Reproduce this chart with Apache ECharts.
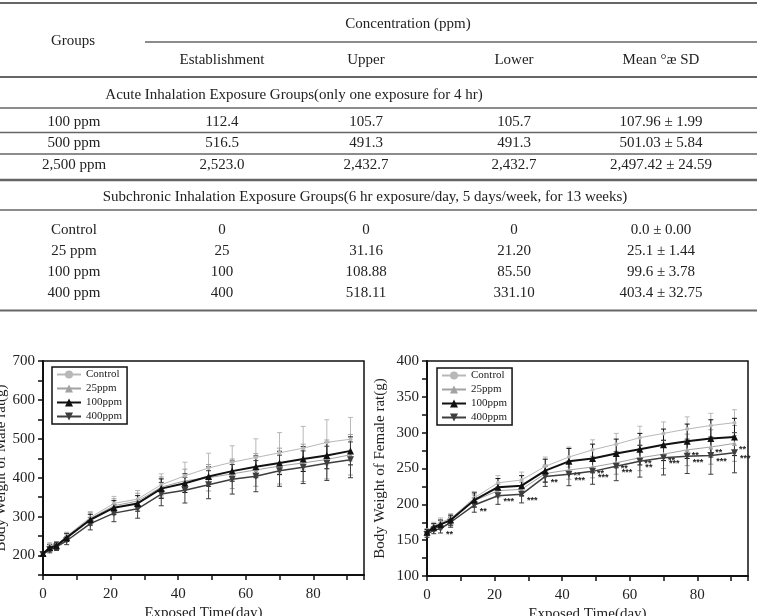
<!DOCTYPE html>
<html lang="en">
<head>
<meta charset="UTF-8">
<title>Exposure concentration and body weight</title>
</head>
<body style="margin:0;background:#fff;">
<div id="main" style="width:757px; height:616px;"></div>
<script src="https://fastly.jsdelivr.net/npm/echarts@6/dist/echarts.min.js"></script>
<script>
// ---- table text ----
var groupsLabel = 'Groups';
var headerTitle = 'Concentration (ppm)';
var headerCols = ['Establishment', 'Upper', 'Lower', 'Mean °æ SD'];
var acuteTitle = 'Acute Inhalation Exposure Groups(only one exposure for 4 hr)';
var acuteRows = [
  ['100 ppm', '112.4', '105.7', '105.7', '107.96 ± 1.99'],
  ['500 ppm', '516.5', '491.3', '491.3', '501.03 ± 5.84'],
  ['2,500 ppm', '2,523.0', '2,432.7', '2,432.7', '2,497.42 ± 24.59']
];
var subTitle = 'Subchronic Inhalation Exposure Groups(6 hr exposure/day, 5 days/week, for 13 weeks)';
var subRows = [
  ['Control', '0', '0', '0', '0.0 ± 0.00'],
  ['25 ppm', '25', '31.16', '21.20', '25.1 ± 1.44'],
  ['100 ppm', '100', '108.88', '85.50', '99.6 ± 3.78'],
  ['400 ppm', '400', '518.11', '331.10', '403.4 ± 32.75']
];

// ---- body weight (g) ----
var days = [0, 2, 4, 7, 14, 21, 28, 35, 42, 49, 56, 63, 70, 77, 84, 91];
var groupNames = ['Control', '25ppm', '100ppm', '400ppm'];

var maleControl = [205, 225, 228, 250, 298, 334, 345, 382, 405, 425, 440, 452, 464, 476, 491, 499];
var male25 = [204, 222, 227, 248, 295, 328, 340, 376, 392, 400, 410, 420, 430, 438, 447, 459];
var male100 = [205, 220, 225, 246, 292, 323, 334, 372, 386, 403, 417, 428, 438, 448, 457, 469];
var male400 = [203, 215, 222, 238, 282, 309, 320, 358, 368, 382, 396, 404, 418, 427, 437, 446];
var maleControlSD = [5, 8, 8, 10, 15, 18, 22, 28, 35, 38, 42, 48, 52, 56, 58, 56];
var male25SD = [5, 8, 9, 10, 15, 18, 20, 26, 30, 34, 38, 42, 46, 48, 50, 52];
var male100SD = [5, 8, 9, 10, 14, 18, 20, 25, 24, 25, 26, 28, 30, 32, 34, 36];
var male400SD = [5, 8, 9, 10, 16, 22, 24, 30, 33, 36, 38, 40, 40, 42, 44, 46];

var femaleControl = [162, 170, 175, 180, 209, 230, 234, 253, 266, 276, 284, 293, 299, 305, 310, 314];
var female25 = [160, 168, 172, 177, 205, 219, 221, 243, 248, 252, 258, 265, 270, 276, 280, 285];
var female100 = [161, 168, 172, 178, 206, 224, 226, 247, 260, 264, 271, 277, 283, 288, 292, 294];
var female400 = [158, 164, 166, 175, 199, 212, 214, 239, 242, 246, 253, 260, 265, 267, 268, 272];
var femaleControlSD = [4, 5, 6, 7, 9, 10, 11, 13, 14, 14, 15, 16, 16, 17, 17, 18];
var female25SD = [4, 5, 6, 7, 8, 9, 10, 12, 13, 15, 16, 18, 20, 22, 24, 25];
var female100SD = [4, 5, 6, 7, 10, 12, 14, 16, 18, 20, 20, 22, 22, 24, 26, 26];
var female400SD = [4, 5, 6, 7, 10, 12, 12, 14, 16, 18, 20, 22, 24, 24, 26, 28];
// significance marks beside the female points
var female25Sig = ['', '', '', '', '', '', '', '', '**', '**', '**', '**', '**', '**', '**', '**'];
var female400Sig = ['', '', '**', '', '**', '***', '***', '**', '***', '***', '***', '**', '***', '***', '***', '***'];

var serif = 'Liberation Serif, Times New Roman, serif';

// ---- table drawn with graphic elements ----
var colX = [74, 222, 366, 514, 661];
var graphics = [];
function txt(s, x, y) {
  graphics.push({
    type: 'text', x: x, y: y, silent: true,
    style: { text: s, fill: '#222', font: '15px ' + serif, align: 'center', verticalAlign: 'middle' }
  });
}
function hline(y, x1, x2, w) {
  graphics.push({
    type: 'line', silent: true,
    shape: { x1: x1, y1: y, x2: x2, y2: y },
    style: { stroke: '#666', lineWidth: w }
  });
}
hline(3, 0, 757, 2);
txt(headerTitle, 408, 24);
txt(groupsLabel, 73, 41);
hline(42, 145, 757, 1.3);
headerCols.forEach(function (h, i) { txt(h, colX[i + 1], 60); });
hline(77, 0, 757, 2);
txt(acuteTitle, 294, 95);
hline(108, 0, 757, 1.5);
var acuteY = [122, 143, 165];
acuteRows.forEach(function (row, r) {
  row.forEach(function (c, i) { txt(c, colX[i], acuteY[r]); });
});
hline(132.5, 0, 757, 1.5);
hline(154, 0, 757, 1.5);
hline(180, 0, 757, 2.5);
txt(subTitle, 365, 197);
hline(210, 0, 757, 1.5);
var subY = [230, 251, 272, 293];
subRows.forEach(function (row, r) {
  row.forEach(function (c, i) { txt(c, colX[i], subY[r]); });
});
hline(310.5, 0, 757, 2);

// ---- charts ----
var styles = [
  { color: '#b8b8b8', width: 1, symbol: 'circle', size: 4, rotate: 0, z: 3 },
  { color: '#a2a2a2', width: 1, symbol: 'triangle', size: 5, rotate: 0, z: 3 },
  { color: '#111111', width: 2, symbol: 'triangle', size: 7, rotate: 0, z: 5 },
  { color: '#3e3e3e', width: 1.5, symbol: 'triangle', size: 7, rotate: 180, z: 4 }
];

function errorBar(color) {
  return function (params, api) {
    var x = api.value(0);
    var top = api.coord([x, api.value(2)]);
    var bot = api.coord([x, api.value(1)]);
    var cap = 2.5;
    var st = { stroke: color, lineWidth: 1 };
    return {
      type: 'group',
      children: [
        { type: 'line', shape: { x1: top[0], y1: top[1], x2: bot[0], y2: bot[1] }, style: st },
        { type: 'line', shape: { x1: top[0] - cap, y1: top[1], x2: top[0] + cap, y2: top[1] }, style: st },
        { type: 'line', shape: { x1: bot[0] - cap, y1: bot[1], x2: bot[0] + cap, y2: bot[1] }, style: st }
      ]
    };
  };
}

function groupSeries(gi, k, means, sds, sig) {
  var s = styles[k];
  var out = [];
  out.push({
    name: groupNames[k] + ' SD', type: 'custom',
    xAxisIndex: gi, yAxisIndex: gi, z: 1,
    renderItem: errorBar(s.color),
    encode: { x: 0, y: [1, 2] },
    data: days.map(function (d, i) { return [d, means[i] - sds[i], means[i] + sds[i]]; })
  });
  var line = {
    name: groupNames[k], type: 'line',
    xAxisIndex: gi, yAxisIndex: gi, z: s.z,
    symbol: s.symbol, symbolSize: s.size, symbolRotate: s.rotate,
    showAllSymbol: true,
    itemStyle: { color: s.color },
    lineStyle: { color: s.color, width: s.width },
    data: days.map(function (d, i) { return [d, means[i]]; })
  };
  if (sig) {
    line.label = {
      show: true, position: 'right', distance: 2, offset: [0, 6],
      formatter: function (p) { return sig[p.dataIndex]; },
      fontSize: 9, fontWeight: 'bold', color: '#222'
    };
  }
  out.push(line);
  return out;
}

var series = [];
[maleControl, male25, male100, male400].forEach(function (m, k) {
  series = series.concat(groupSeries(0, k, m, [maleControlSD, male25SD, male100SD, male400SD][k], null));
});
[femaleControl, female25, female100, female400].forEach(function (m, k) {
  var sig = k === 1 ? female25Sig : (k === 3 ? female400Sig : null);
  series = series.concat(groupSeries(1, k, m, [femaleControlSD, female25SD, female100SD, female400SD][k], sig));
});

function xAxis(gi) {
  return {
    gridIndex: gi, type: 'value', min: 0, max: 95, interval: 10,
    axisLine: { show: true, lineStyle: { color: '#111', width: 2 } },
    axisTick: { show: true, length: 5, lineStyle: { color: '#111', width: 1.5 } },
    splitLine: { show: false },
    axisLabel: {
      margin: 12, fontSize: 15, fontFamily: serif, color: '#222',
      formatter: function (v) { return (v % 20 === 0 && v <= 80) ? String(v) : ''; }
    },
    name: 'Exposed Time(day)', nameLocation: 'middle', nameGap: 31,
    nameTextStyle: { fontSize: 15, fontFamily: serif, color: '#222' }
  };
}
function yAxis(gi, min, max, step, labelStep, name, gap) {
  return {
    gridIndex: gi, type: 'value', min: min, max: max, interval: step,
    axisLine: { show: true, lineStyle: { color: '#111', width: 2 } },
    axisTick: { show: true, length: 5, lineStyle: { color: '#111', width: 1.5 } },
    splitLine: { show: false },
    axisLabel: {
      margin: 8, fontSize: 15, fontFamily: serif, color: '#222',
      formatter: function (v) { return v % labelStep === 0 ? String(v) : ''; }
    },
    name: name, nameLocation: 'middle', nameGap: gap,
    nameTextStyle: { fontSize: 15, fontFamily: serif, color: '#222' }
  };
}
function legend(left, top) {
  return {
    data: groupNames, orient: 'vertical', left: left, top: top,
    itemWidth: 24, itemHeight: 10, itemGap: 3,
    padding: [2, 5, 2, 4],
    borderColor: '#111', borderWidth: 1.5,
    textStyle: { fontSize: 11, fontFamily: serif, color: '#222' },
    selectedMode: false
  };
}

var chart = echarts.init(document.getElementById('main'));
chart.setOption({
  animation: false,
  backgroundColor: '#fff',
  graphic: graphics,
  grid: [
    { left: 43, top: 361, width: 321, height: 214, show: true, borderColor: '#111', borderWidth: 1.5, outerBoundsMode: 'none' },
    { left: 427, top: 361, width: 321, height: 215, show: true, borderColor: '#111', borderWidth: 1.5, outerBoundsMode: 'none' }
  ],
  legend: [legend(52, 367), legend(437, 368)],
  xAxis: [xAxis(0), xAxis(1)],
  yAxis: [
    yAxis(0, 150, 700, 50, 100, 'Body Weight of Male rat(g)', 34),
    yAxis(1, 100, 400, 25, 50, 'Body Weight of Female rat(g)', 39)
  ],
  series: series
});
</script>
</body>
</html>
